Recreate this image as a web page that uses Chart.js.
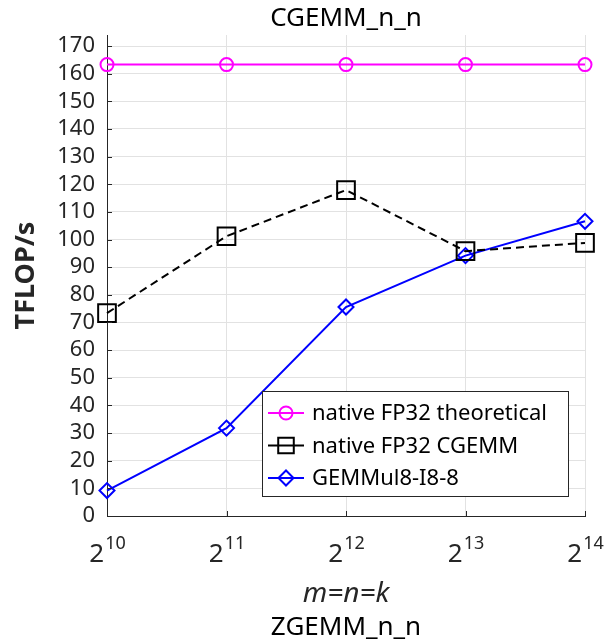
<!DOCTYPE html>
<html>
<head>
<meta charset="utf-8">
<script src="https://cdn.jsdelivr.net/npm/chart.js@4/dist/chart.umd.min.js"></script>
<style>
  html, body { margin: 0; padding: 0; background: #fff; }
  canvas { display: block; }
</style>
</head>
<body>
<canvas id="chart" width="611" height="641"></canvas>
<script>
// Data (TFLOP/s vs log2 of m=n=k)
const exponents = [10, 11, 12, 13, 14];
const theoreticalTflops = [163.3, 163.3, 163.3, 163.3, 163.3];
const cgemmTflops = [73.4, 101.2, 117.9, 95.8, 98.8];
const gemmulTflops = [9.2, 31.8, 75.6, 94.2, 106.6];
const seriesLabels = ['native FP32 theoretical', 'native FP32 CGEMM', 'GEMMul8-I8-8'];
const yTickValues = [0, 10, 20, 30, 40, 50, 60, 70, 80, 90, 100, 110, 120, 130, 140, 150, 160, 170];

const FONT = '"Noto Sans", "Open Sans", sans-serif';
const TEXT_COLOR = '#262626';

function toPoints(values) {
    return exponents.map((e, i) => ({ x: e, y: values[i] }));
}

// Center title and subtitle over the plot area rather than the whole canvas
const centerTitles = {
    id: 'centerTitles',
    afterLayout(chart) {
        const area = chart.chartArea;
        chart.boxes.forEach(box => {
            if (box.options && box.options.text !== undefined && !box.axis) {
                box.left = area.left;
                box.right = area.right;
                box.width = area.right - area.left;
            }
        });
    }
};

// Draw x tick labels as 2^k, plus small inward tick marks
const powerLabels = {
    id: 'powerLabels',
    afterDraw(chart) {
        const ctx = chart.ctx;
        const xs = chart.scales.x;
        const ys = chart.scales.y;
        ctx.save();
        ctx.fillStyle = TEXT_COLOR;
        ctx.textAlign = 'left';
        ctx.textBaseline = 'alphabetic';
        exponents.forEach(e => {
            const px = xs.getPixelForValue(e);
            ctx.font = `26px ${FONT}`;
            const baseW = ctx.measureText('2').width;
            ctx.font = `18px ${FONT}`;
            const expW = ctx.measureText(String(e)).width;
            const left = px - (baseW + expW) / 2;
            ctx.font = `26px ${FONT}`;
            ctx.fillText('2', left, xs.top + 46);
            ctx.font = `18px ${FONT}`;
            ctx.fillText(String(e), left + baseW + 1, xs.top + 33);
        });
        // inward ticks
        ctx.strokeStyle = TEXT_COLOR;
        ctx.lineWidth = 1;
        ctx.beginPath();
        exponents.forEach(e => {
            const px = Math.round(xs.getPixelForValue(e)) + 0.5;
            ctx.moveTo(px, xs.top);
            ctx.lineTo(px, xs.top - 5);
        });
        ys.ticks.forEach(t => {
            const py = Math.round(ys.getPixelForValue(t.value)) + 0.5;
            ctx.moveTo(ys.right, py);
            ctx.lineTo(ys.right + 5, py);
        });
        ctx.stroke();
        ctx.restore();
    }
};

// Boxed legend inside the lower right of the plot
const boxLegend = {
    id: 'boxLegend',
    afterDraw(chart) {
        const { ctx, chartArea } = chart;
        const w = 306, h = 105;
        const x0 = chartArea.right - 17 - w;
        const y0 = chartArea.bottom - 20 - h;
        ctx.save();
        ctx.fillStyle = '#fff';
        ctx.fillRect(x0, y0, w, h);
        ctx.strokeStyle = TEXT_COLOR;
        ctx.lineWidth = 1;
        ctx.strokeRect(Math.round(x0) + 0.5, Math.round(y0) + 0.5, w, h);
        ctx.font = `22px ${FONT}`;
        ctx.textBaseline = 'middle';
        ctx.textAlign = 'left';
        chart.data.datasets.forEach((ds, i) => {
            const cy = y0 + 22 + i * 32.5;
            ctx.strokeStyle = ds.borderColor;
            ctx.lineWidth = ds.borderWidth;
            ctx.beginPath();
            ctx.moveTo(x0 + 6, cy);
            ctx.lineTo(x0 + 42, cy);
            ctx.stroke();
            ctx.fillStyle = 'rgba(0,0,0,0)';
            ctx.strokeStyle = ds.borderColor;
            ctx.lineWidth = ds.pointBorderWidth;
            Chart.helpers.drawPoint(ctx, {
                pointStyle: ds.pointStyle,
                radius: ds.legendRadius,
                rotation: 0,
                borderWidth: ds.pointBorderWidth
            }, x0 + 24, cy);
            ctx.fillStyle = '#000';
            ctx.fillText(ds.label, x0 + 50, cy + 1);
        });
        ctx.restore();
    }
};

new Chart(document.getElementById('chart'), {
    type: 'line',
    data: {
        datasets: [
            {
                label: seriesLabels[0],
                data: toPoints(theoreticalTflops),
                borderColor: '#ff00ff',
                borderWidth: 2,
                pointStyle: 'circle',
                pointRadius: 6.5,
                legendRadius: 6.5,
                pointBorderWidth: 2,
                pointBorderColor: '#ff00ff',
                pointBackgroundColor: 'rgba(0,0,0,0)',
                clip: false
            },
            {
                label: seriesLabels[1],
                data: toPoints(cgemmTflops),
                borderColor: '#000000',
                borderWidth: 2,
                borderDash: [8, 5],
                pointStyle: 'rect',
                pointRadius: 12.5,
                legendRadius: 11,
                pointBorderWidth: 2,
                pointBorderColor: '#000000',
                pointBackgroundColor: 'rgba(0,0,0,0)',
                clip: false
            },
            {
                label: seriesLabels[2],
                data: toPoints(gemmulTflops),
                borderColor: '#0000ff',
                borderWidth: 2,
                pointStyle: 'rectRot',
                pointRadius: 7.5,
                legendRadius: 7.5,
                pointBorderWidth: 2,
                pointBorderColor: '#0000ff',
                pointBackgroundColor: 'rgba(0,0,0,0)',
                clip: false
            }
        ]
    },
    options: {
        responsive: false,
        animation: false,
        layout: { padding: { left: 0, right: 26, top: 0, bottom: 0 } },
        plugins: {
            legend: { display: false },
            tooltip: { enabled: false },
            title: {
                display: true,
                text: 'CGEMM_n_n',
                color: '#000',
                font: { family: FONT, size: 26, weight: 'normal', lineHeight: 1.2 },
                padding: { top: 3, bottom: 0.8 }
            },
            subtitle: {
                display: true,
                position: 'bottom',
                text: 'ZGEMM_n_n',
                color: '#000',
                font: { family: FONT, size: 26, weight: 'normal', lineHeight: 1.0 },
                padding: { top: 0, bottom: 0 }
            }
        },
        scales: {
            x: {
                type: 'linear',
                min: 10,
                max: 14,
                ticks: { display: false, stepSize: 1 },
                grid: { color: '#e2e2e2', drawTicks: false },
                border: { color: TEXT_COLOR, width: 1 },
                title: {
                    display: true,
                    text: 'm=n=k',
                    color: TEXT_COLOR,
                    font: { family: FONT, size: 28, style: 'italic', lineHeight: 1.2 },
                    padding: { top: 0, bottom: 4 }
                },
                afterFit(s) { s.height = 99; }
            },
            y: {
                min: 0,
                max: 174,
                ticks: {
                    autoSkip: false,
                    padding: 12,
                    color: TEXT_COLOR,
                    font: { family: FONT, size: 22 }
                },
                afterBuildTicks(s) {
                    s.ticks = yTickValues.map(v => ({ value: v }));
                },
                grid: { color: '#e2e2e2', drawTicks: false },
                border: { color: TEXT_COLOR, width: 1 },
                title: {
                    display: true,
                    text: 'TFLOP/s',
                    color: TEXT_COLOR,
                    font: { family: FONT, size: 27, weight: 'bold', lineHeight: 1.2 },
                    padding: { top: 10, bottom: 0 }
                },
                afterFit(s) { s.width = 107; }
            }
        }
    },
    plugins: [centerTitles, powerLabels, boxLegend]
});
</script>
</body>
</html>
